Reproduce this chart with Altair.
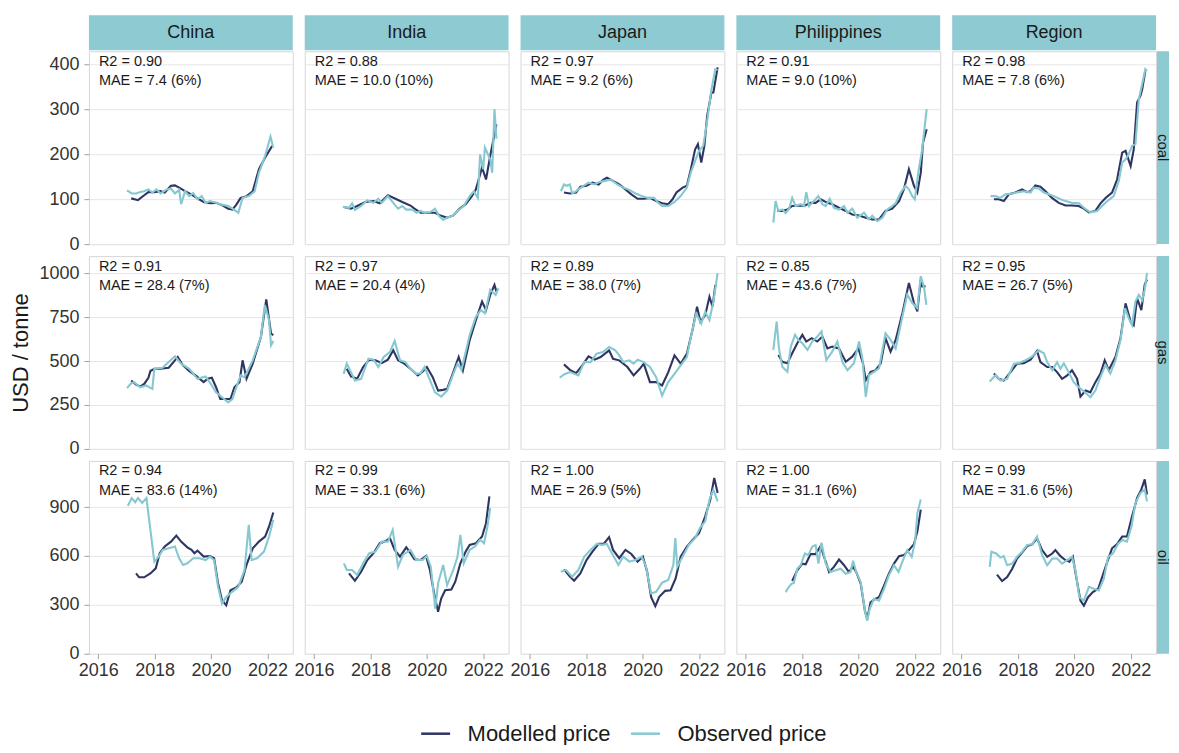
import altair as alt
import pandas as pd

countries = ["China", "India", "Japan", "Philippines", "Region"]
fuels = ["coal", "gas", "oil"]
series_names = ["Modelled price", "Observed price"]

r2_coal = [0.90, 0.88, 0.97, 0.91, 0.98]
r2_gas = [0.91, 0.97, 0.89, 0.85, 0.95]
r2_oil = [0.94, 0.99, 1.00, 1.00, 0.99]
mae_coal = [7.4, 10.0, 9.2, 9.0, 7.8]
mae_gas = [28.4, 20.4, 38.0, 43.6, 26.7]
mae_oil = [83.6, 33.1, 26.9, 31.1, 31.6]
pct_coal = [6, 10, 6, 10, 6]
pct_gas = [7, 4, 7, 7, 5]
pct_oil = [14, 6, 5, 6, 5]

x_ticks = [2016, 2018, 2020, 2022]
y_ticks_coal = [0, 100, 200, 300, 400]
y_ticks_gas = [0, 250, 500, 750, 1000]
y_ticks_oil = [0, 300, 600, 900]

# ---- coal ----
coal_china_mod = [(2017.17,102),(2017.41,98),(2017.63,109),(2017.78,116),(2017.99,116),(2018.21,118),(2018.36,115),(2018.58,130),(2018.72,131),(2018.87,126),(2019.08,118),(2019.30,111),(2019.52,102),(2019.74,94),(2019.96,91),(2020.18,92),(2020.39,87),(2020.61,79),(2020.76,77),(2020.90,88),(2021.05,103),(2021.26,107),(2021.48,118),(2021.70,167),(2021.92,193),(2022.17,219)]
coal_china_obs = [(2017.02,120),(2017.19,113),(2017.34,113),(2017.49,116),(2017.63,118),(2017.78,122),(2017.92,115),(2018.07,122),(2018.21,113),(2018.43,122),(2018.58,124),(2018.72,113),(2018.87,121),(2018.94,89),(2019.08,118),(2019.23,107),(2019.37,114),(2019.52,100),(2019.67,107),(2019.81,92),(2019.96,96),(2020.18,92),(2020.39,88),(2020.61,85),(2020.76,79),(2020.97,70),(2021.12,103),(2021.34,107),(2021.55,118),(2021.70,159),(2021.92,197),(2022.11,240),(2022.21,215)]
coal_india_mod = [(2017.06,83),(2017.31,79),(2017.53,85),(2017.82,94),(2018.11,96),(2018.33,91),(2018.62,109),(2018.83,103),(2019.13,94),(2019.42,86),(2019.56,79),(2019.78,70),(2020.00,70),(2020.29,70),(2020.51,63),(2020.72,59),(2020.94,64),(2021.16,79),(2021.38,89),(2021.60,107),(2021.74,122),(2021.96,171),(2022.10,144),(2022.25,197),(2022.47,267)]
coal_india_obs = [(2017.02,83),(2017.24,81),(2017.35,91),(2017.45,76),(2017.67,85),(2017.89,98),(2018.11,92),(2018.28,101),(2018.40,92),(2018.62,107),(2018.76,96),(2018.98,79),(2019.13,85),(2019.27,77),(2019.49,77),(2019.63,70),(2019.78,74),(2019.92,70),(2020.11,71),(2020.29,79),(2020.43,63),(2020.58,54),(2020.72,59),(2020.94,64),(2021.09,74),(2021.31,85),(2021.52,107),(2021.67,118),(2021.81,103),(2021.89,200),(2022.00,167),(2022.06,215),(2022.25,189),(2022.32,159),(2022.40,301),(2022.47,235)]
coal_japan_mod = [(2017.21,115),(2017.42,113),(2017.64,115),(2017.79,128),(2018.01,130),(2018.22,137),(2018.44,133),(2018.59,143),(2018.73,148),(2018.95,141),(2019.17,133),(2019.39,122),(2019.60,111),(2019.82,101),(2020.04,101),(2020.26,103),(2020.48,96),(2020.69,91),(2020.91,89),(2021.06,100),(2021.20,115),(2021.42,126),(2021.57,130),(2021.71,167),(2021.86,211),(2021.96,223),(2022.08,182),(2022.19,219),(2022.29,286),(2022.44,338),(2022.51,338),(2022.66,394)]
coal_japan_obs = [(2017.10,118),(2017.21,133),(2017.31,130),(2017.42,133),(2017.50,113),(2017.64,118),(2017.86,128),(2018.08,137),(2018.30,133),(2018.44,138),(2018.66,141),(2018.88,144),(2019.10,133),(2019.31,126),(2019.53,121),(2019.75,113),(2019.97,107),(2020.19,103),(2020.41,103),(2020.55,92),(2020.69,85),(2020.91,85),(2021.13,94),(2021.35,107),(2021.57,126),(2021.71,160),(2021.86,185),(2022.00,208),(2022.15,219),(2022.29,275),(2022.44,345),(2022.58,390),(2022.66,388)]
coal_phil_mod = [(2017.12,74),(2017.30,74),(2017.48,77),(2017.65,85),(2017.89,86),(2018.07,85),(2018.30,92),(2018.48,92),(2018.66,100),(2018.90,92),(2019.07,89),(2019.31,81),(2019.55,74),(2019.78,66),(2020.02,64),(2020.26,59),(2020.49,55),(2020.73,55),(2020.96,74),(2021.20,79),(2021.44,96),(2021.61,122),(2021.79,167),(2021.97,130),(2022.09,115),(2022.21,159),(2022.29,226),(2022.42,256)]
coal_phil_obs = [(2016.98,48),(2017.06,96),(2017.16,74),(2017.30,77),(2017.42,69),(2017.54,79),(2017.65,103),(2017.77,85),(2017.95,89),(2018.07,85),(2018.15,116),(2018.25,85),(2018.42,96),(2018.58,107),(2018.72,89),(2018.84,85),(2018.98,101),(2019.13,81),(2019.31,77),(2019.49,85),(2019.61,70),(2019.78,79),(2019.96,59),(2020.20,70),(2020.37,55),(2020.49,63),(2020.67,51),(2020.85,59),(2021.02,77),(2021.20,85),(2021.32,91),(2021.50,115),(2021.67,130),(2021.79,122),(2021.91,107),(2022.00,100),(2022.12,159),(2022.26,211),(2022.42,301)]
coal_region_mod = [(2017.15,100),(2017.32,100),(2017.50,96),(2017.68,111),(2017.91,115),(2018.15,122),(2018.33,116),(2018.45,118),(2018.62,131),(2018.80,128),(2018.98,118),(2019.21,103),(2019.45,92),(2019.69,86),(2019.92,86),(2020.16,85),(2020.34,79),(2020.52,71),(2020.75,74),(2020.93,91),(2021.11,103),(2021.34,115),(2021.52,144),(2021.70,204),(2021.82,208),(2022.00,174),(2022.11,211),(2022.23,316),(2022.35,331),(2022.41,345),(2022.52,386)]
coal_region_obs = [(2017.03,107),(2017.21,107),(2017.38,103),(2017.56,111),(2017.80,113),(2018.03,116),(2018.21,118),(2018.45,115),(2018.56,126),(2018.74,124),(2018.92,115),(2019.10,111),(2019.28,107),(2019.51,100),(2019.69,96),(2019.92,92),(2020.16,91),(2020.34,81),(2020.57,71),(2020.81,74),(2020.99,85),(2021.17,96),(2021.40,107),(2021.58,141),(2021.70,182),(2021.82,189),(2021.93,200),(2022.05,219),(2022.17,223),(2022.29,323),(2022.41,357),(2022.52,390),(2022.58,386)]

# ---- gas ----
gas_china_mod = [(2017.17,389),(2017.34,366),(2017.49,355),(2017.63,370),(2017.78,405),(2017.85,443),(2017.99,456),(2018.21,456),(2018.50,462),(2018.72,504),(2018.82,523),(2019.01,475),(2019.23,443),(2019.45,418),(2019.74,380),(2019.88,399),(2020.03,405),(2020.18,351),(2020.33,284),(2020.55,284),(2020.69,284),(2020.83,351),(2021.01,380),(2021.12,504),(2021.26,399),(2021.48,485),(2021.77,637),(2021.96,851),(2022.13,656),(2022.21,647)]
gas_china_obs = [(2017.02,347),(2017.17,374),(2017.27,380),(2017.49,351),(2017.70,361),(2017.92,342),(2017.99,456),(2018.28,462),(2018.72,527),(2018.94,485),(2019.23,456),(2019.52,399),(2019.81,412),(2020.03,361),(2020.18,322),(2020.39,294),(2020.61,265),(2020.76,284),(2020.90,351),(2021.05,418),(2021.19,408),(2021.48,504),(2021.77,637),(2021.91,819),(2022.06,733),(2022.13,590),(2022.21,614)]
gas_india_mod = [(2017.16,456),(2017.31,412),(2017.53,399),(2017.74,466),(2017.96,508),(2018.18,504),(2018.40,488),(2018.62,508),(2018.81,561),(2018.98,504),(2019.20,485),(2019.42,456),(2019.68,418),(2019.83,437),(2020.00,466),(2020.21,408),(2020.40,332),(2020.58,336),(2020.72,342),(2020.94,437),(2021.13,523),(2021.28,447),(2021.52,618),(2021.74,733),(2021.96,838),(2022.10,790),(2022.25,876),(2022.40,933),(2022.47,895)]
gas_india_obs = [(2017.05,427),(2017.16,485),(2017.31,437),(2017.45,389),(2017.67,399),(2017.93,513),(2018.11,508),(2018.28,466),(2018.47,523),(2018.69,551),(2018.86,614),(2019.05,504),(2019.24,494),(2019.42,456),(2019.63,427),(2019.78,431),(2019.92,466),(2020.14,380),(2020.29,322),(2020.51,298),(2020.72,332),(2020.94,427),(2021.09,485),(2021.23,450),(2021.52,647),(2021.74,752),(2021.92,790),(2022.06,771),(2022.25,905),(2022.44,876),(2022.54,914)]
gas_japan_mod = [(2017.21,481),(2017.42,450),(2017.64,431),(2017.86,475),(2018.08,527),(2018.30,508),(2018.51,523),(2018.81,561),(2018.95,513),(2019.17,504),(2019.46,466),(2019.68,418),(2019.90,456),(2020.04,485),(2020.26,380),(2020.48,380),(2020.69,361),(2020.91,437),(2021.13,532),(2021.35,485),(2021.57,542),(2021.78,685),(2021.93,809),(2022.05,723),(2022.22,761),(2022.37,866),(2022.48,809),(2022.58,933)]
gas_japan_obs = [(2017.06,405),(2017.21,424),(2017.42,437),(2017.72,418),(2017.93,494),(2018.15,494),(2018.37,542),(2018.59,551),(2018.81,580),(2019.03,561),(2019.17,532),(2019.31,494),(2019.53,504),(2019.68,485),(2019.82,508),(2020.04,494),(2020.26,466),(2020.48,408),(2020.69,303),(2020.91,380),(2021.13,427),(2021.35,475),(2021.57,523),(2021.71,637),(2021.90,771),(2022.08,714),(2022.22,780),(2022.37,733),(2022.51,838),(2022.66,1000)]
gas_phil_mod = [(2017.16,534),(2017.30,496),(2017.48,487),(2017.65,544),(2017.83,601),(2018.01,649),(2018.15,611),(2018.34,630),(2018.54,611),(2018.72,639),(2018.90,572),(2019.07,582),(2019.31,572),(2019.55,496),(2019.78,525),(2020.00,572),(2020.16,487),(2020.26,391),(2020.43,439),(2020.61,448),(2020.79,487),(2020.96,630),(2021.14,553),(2021.32,620),(2021.56,773),(2021.79,944),(2021.97,830),(2022.09,782),(2022.21,963),(2022.26,925),(2022.38,925)]
gas_phil_obs = [(2016.98,563),(2017.10,725),(2017.18,572),(2017.30,467),(2017.48,439),(2017.60,582),(2017.75,649),(2017.87,620),(2018.01,601),(2018.19,563),(2018.36,611),(2018.54,639),(2018.69,668),(2018.86,506),(2019.07,553),(2019.25,611),(2019.43,496),(2019.61,448),(2019.84,487),(2020.02,611),(2020.14,515),(2020.26,296),(2020.37,420),(2020.55,439),(2020.73,458),(2020.96,658),(2021.14,620),(2021.32,572),(2021.56,754),(2021.73,878),(2021.91,830),(2022.09,801),(2022.21,983),(2022.33,916),(2022.41,820)]
gas_region_mod = [(2017.15,429),(2017.32,399),(2017.50,389),(2017.74,437),(2017.97,485),(2018.21,488),(2018.45,508),(2018.68,557),(2018.80,494),(2019.04,466),(2019.22,466),(2019.39,437),(2019.57,399),(2019.75,418),(2019.92,448),(2020.10,399),(2020.22,298),(2020.40,332),(2020.57,322),(2020.75,380),(2020.93,429),(2021.08,504),(2021.22,448),(2021.46,523),(2021.64,630),(2021.82,828),(2022.00,723),(2022.11,704),(2022.23,857),(2022.38,790),(2022.50,935),(2022.58,964)]
gas_region_obs = [(2017.00,384),(2017.21,420),(2017.38,389),(2017.62,399),(2017.86,485),(2018.03,488),(2018.27,504),(2018.51,527),(2018.74,561),(2018.92,544),(2019.04,494),(2019.22,448),(2019.39,494),(2019.51,456),(2019.63,487),(2019.80,437),(2019.98,380),(2020.16,351),(2020.34,328),(2020.57,294),(2020.75,332),(2020.93,410),(2021.11,477),(2021.28,429),(2021.46,504),(2021.64,620),(2021.80,801),(2021.93,744),(2022.05,704),(2022.17,838),(2022.29,876),(2022.41,847),(2022.50,906),(2022.58,1002)]

# ---- oil ----
oil_china_mod = [(2017.34,493),(2017.45,469),(2017.63,469),(2017.85,493),(2018.04,524),(2018.18,617),(2018.36,658),(2018.58,688),(2018.77,725),(2018.94,688),(2019.16,653),(2019.31,637),(2019.41,617),(2019.52,633),(2019.74,596),(2019.96,600),(2020.11,586),(2020.25,432),(2020.39,329),(2020.54,298),(2020.69,390),(2020.90,407),(2021.09,442),(2021.26,545),(2021.48,647),(2021.70,688),(2021.92,719),(2022.06,781),(2022.21,867)]
oil_china_obs = [(2017.05,908),(2017.19,955),(2017.31,929),(2017.41,955),(2017.56,925),(2017.71,955),(2017.99,565),(2018.14,596),(2018.29,637),(2018.50,647),(2018.72,658),(2018.87,586),(2019.01,545),(2019.16,555),(2019.37,586),(2019.59,586),(2019.81,575),(2019.96,596),(2020.11,575),(2020.25,411),(2020.39,308),(2020.54,349),(2020.75,380),(2020.97,411),(2021.19,514),(2021.34,791),(2021.44,575),(2021.63,586),(2021.88,627),(2022.06,719),(2022.21,822)]
oil_india_mod = [(2017.24,493),(2017.45,448),(2017.67,503),(2017.89,575),(2018.11,617),(2018.33,678),(2018.51,688),(2018.69,709),(2018.86,637),(2019.05,596),(2019.27,653),(2019.42,617),(2019.56,579),(2019.78,575),(2019.97,600),(2020.11,514),(2020.26,370),(2020.40,257),(2020.51,339),(2020.65,390),(2020.87,394),(2021.01,442),(2021.19,555),(2021.38,627),(2021.52,668),(2021.74,678),(2021.96,719),(2022.10,801),(2022.22,966)]
oil_india_obs = [(2017.06,555),(2017.16,514),(2017.35,514),(2017.53,483),(2017.74,555),(2017.96,617),(2018.18,627),(2018.40,688),(2018.62,688),(2018.79,760),(2018.98,534),(2019.15,606),(2019.42,637),(2019.63,575),(2019.85,575),(2020.00,600),(2020.14,534),(2020.30,277),(2020.40,432),(2020.58,545),(2020.72,421),(2020.94,514),(2021.09,596),(2021.19,729),(2021.31,555),(2021.52,637),(2021.71,658),(2021.89,699),(2022.03,678),(2022.15,781),(2022.25,894)]
oil_japan_mod = [(2017.21,518),(2017.42,473),(2017.57,448),(2017.79,493),(2018.01,575),(2018.22,627),(2018.44,674),(2018.62,674),(2018.81,715),(2018.95,637),(2019.17,586),(2019.39,637),(2019.60,612),(2019.82,565),(2020.01,596),(2020.16,503),(2020.30,349),(2020.45,292),(2020.59,349),(2020.80,386),(2020.99,390),(2021.17,462),(2021.35,596),(2021.57,658),(2021.78,699),(2022.00,740),(2022.22,843),(2022.40,945),(2022.54,1079),(2022.66,986)]
oil_japan_obs = [(2017.10,503),(2017.28,514),(2017.50,473),(2017.72,514),(2017.93,596),(2018.15,637),(2018.37,674),(2018.56,668),(2018.73,674),(2018.91,617),(2019.14,545),(2019.31,596),(2019.53,565),(2019.75,575),(2019.97,596),(2020.12,534),(2020.30,370),(2020.48,380),(2020.69,436),(2020.91,452),(2021.09,545),(2021.16,709),(2021.23,534),(2021.42,596),(2021.64,668),(2021.86,709),(2022.03,771),(2022.22,812),(2022.37,945),(2022.51,1007),(2022.66,935)]
oil_phil_mod = [(2017.65,446),(2017.83,512),(2018.01,553),(2018.13,549),(2018.30,611),(2018.48,611),(2018.66,661),(2018.78,595),(2018.96,502),(2019.13,533),(2019.31,578),(2019.49,543),(2019.66,502),(2019.81,533),(2019.92,502),(2020.08,430),(2020.23,264),(2020.31,213),(2020.43,316),(2020.59,337),(2020.73,347),(2020.91,419),(2021.08,491),(2021.26,553),(2021.44,599),(2021.61,605),(2021.79,636),(2021.97,673),(2022.09,750),(2022.21,884)]
oil_phil_obs = [(2017.42,378),(2017.51,405),(2017.63,430),(2017.71,434),(2017.83,522),(2017.95,543),(2018.10,615),(2018.22,605),(2018.36,657),(2018.48,667),(2018.58,553),(2018.69,682),(2018.84,553),(2019.01,502),(2019.19,512),(2019.37,522),(2019.55,491),(2019.72,502),(2019.81,570),(2019.92,502),(2020.08,440),(2020.23,264),(2020.31,202),(2020.40,275),(2020.55,337),(2020.73,326),(2020.91,399),(2021.08,481),(2021.26,543),(2021.42,502),(2021.58,574),(2021.73,636),(2021.89,595),(2022.01,688),(2022.09,863),(2022.21,946)]
oil_region_mod = [(2017.26,485),(2017.44,446),(2017.62,471),(2017.80,522),(2017.97,584),(2018.15,620),(2018.33,661),(2018.51,671),(2018.68,708),(2018.86,636),(2019.04,595),(2019.22,615),(2019.33,636),(2019.51,599),(2019.69,574),(2019.83,564),(2019.95,595),(2020.07,471),(2020.22,326),(2020.34,295),(2020.49,347),(2020.66,378),(2020.85,399),(2021.01,481),(2021.17,564),(2021.34,647),(2021.52,673),(2021.70,719),(2021.87,719),(2022.05,843),(2022.23,956),(2022.38,1008),(2022.50,1070),(2022.58,977)]
oil_region_obs = [(2017.00,533),(2017.06,626),(2017.23,615),(2017.38,590),(2017.50,599),(2017.62,543),(2017.80,553),(2017.97,595),(2018.15,626),(2018.33,667),(2018.51,671),(2018.68,719),(2018.86,605),(2019.04,543),(2019.22,584),(2019.39,584),(2019.57,553),(2019.75,574),(2019.92,595),(2020.04,512),(2020.18,347),(2020.34,326),(2020.52,411),(2020.69,399),(2020.87,388),(2021.05,460),(2021.20,595),(2021.37,615),(2021.56,677),(2021.72,698),(2021.87,688),(2022.03,781),(2022.17,925),(2022.35,987),(2022.50,1008),(2022.58,935)]

SERIES = {
    ("coal", "China"): (coal_china_mod, coal_china_obs),
    ("coal", "India"): (coal_india_mod, coal_india_obs),
    ("coal", "Japan"): (coal_japan_mod, coal_japan_obs),
    ("coal", "Philippines"): (coal_phil_mod, coal_phil_obs),
    ("coal", "Region"): (coal_region_mod, coal_region_obs),
    ("gas", "China"): (gas_china_mod, gas_china_obs),
    ("gas", "India"): (gas_india_mod, gas_india_obs),
    ("gas", "Japan"): (gas_japan_mod, gas_japan_obs),
    ("gas", "Philippines"): (gas_phil_mod, gas_phil_obs),
    ("gas", "Region"): (gas_region_mod, gas_region_obs),
    ("oil", "China"): (oil_china_mod, oil_china_obs),
    ("oil", "India"): (oil_india_mod, oil_india_obs),
    ("oil", "Japan"): (oil_japan_mod, oil_japan_obs),
    ("oil", "Philippines"): (oil_phil_mod, oil_phil_obs),
    ("oil", "Region"): (oil_region_mod, oil_region_obs),
}
STATS = {
    "coal": (r2_coal, mae_coal, pct_coal),
    "gas": (r2_gas, mae_gas, pct_gas),
    "oil": (r2_oil, mae_oil, pct_oil),
}
Y_TICKS = {"coal": y_ticks_coal, "gas": y_ticks_gas, "oil": y_ticks_oil}
Y_TOP = {"coal": 430, "gas": 1097, "oil": 1183}

NAVY = "#2f3563"
TEAL = "#86c8d0"
STRIP = "#8dcad2"
FONT = "Liberation Sans"
W, H = 204, 193


def cell(fi, ci):
    fuel, country = fuels[fi], countries[ci]
    mod, obs = SERIES[(fuel, country)]
    rows = [{"year": y, "value": v, "series": series_names[0]} for y, v in mod]
    rows += [{"year": y, "value": v, "series": series_names[1]} for y, v in obs]
    df = pd.DataFrame(rows)
    first_col, bottom = ci == 0, fi == 2

    if bottom:
        xaxis = alt.Axis(values=x_ticks, format="d", grid=False, title=None,
                         labelFontSize=18, labelPadding=3)
    else:
        xaxis = None
    yaxis = alt.Axis(values=Y_TICKS[fuel], format="d", grid=True, labels=first_col, ticks=first_col,
                     title="USD / tonne" if (first_col and fi == 1) else None)

    lines = alt.Chart(df).mark_line(strokeWidth=2.1).encode(
        x=alt.X("year:Q", scale=alt.Scale(domain=[2015.67, 2022.9], nice=False, zero=False), axis=xaxis),
        y=alt.Y("value:Q", scale=alt.Scale(domain=[0, Y_TOP[fuel]], nice=False), axis=yaxis),
        color=alt.Color("series:N", scale=alt.Scale(domain=series_names, range=[NAVY, TEAL]),
                        legend=alt.Legend(title=None, orient="none", direction="horizontal",
                                          legendX=331, legendY=667, padding=0,
                                          symbolType="stroke", symbolSize=841, symbolStrokeWidth=2.5,
                                          labelFontSize=22, labelFont=FONT, labelColor="#1a1a1a",
                                          labelOffset=16, columnPadding=14)),
    )

    r2s, maes, pcts = STATS[fuel]
    ann_df = pd.DataFrame([{"l1": f"R2 = {r2s[ci]:.2f}", "l2": f"MAE = {maes[ci]:.1f} ({pcts[ci]}%)"}])
    ann1 = alt.Chart(ann_df).mark_text(align="left", baseline="middle", fontSize=14.5, font=FONT,
                                       color="#1a1a1a").encode(x=alt.value(10), y=alt.value(10.5), text="l1:N")
    ann2 = alt.Chart(ann_df).mark_text(align="left", baseline="middle", fontSize=14.5, font=FONT,
                                       color="#1a1a1a").encode(x=alt.value(10), y=alt.value(30), text="l2:N")
    layers = [lines, ann1, ann2]

    if fi == 0:
        sdf = pd.DataFrame([{"label": country}])
        layers.append(alt.Chart(sdf).mark_rect(color=STRIP).encode(
            x=alt.value(0), x2=alt.value(W), y=alt.value(-36), y2=alt.value(-1)))
        layers.append(alt.Chart(sdf).mark_text(fontSize=18, font=FONT, color="#1a1a1a", baseline="middle").encode(
            x=alt.value(W / 2), y=alt.value(-18), text="label:N"))
    if ci == 4:
        rdf = pd.DataFrame([{"label": fuel}])
        layers.append(alt.Chart(rdf).mark_rect(color=STRIP).encode(
            x=alt.value(W + 1), x2=alt.value(W + 13), y=alt.value(0), y2=alt.value(H)))
        layers.append(alt.Chart(rdf).mark_text(fontSize=15, font=FONT, color="#1a1a1a", baseline="middle",
                                               angle=90).encode(
            x=alt.value(W + 7), y=alt.value(H / 2), text="label:N"))

    return alt.layer(*layers).properties(width=W, height=H)


cells = [cell(fi, ci) for fi in range(3) for ci in range(5)]

chart = alt.concat(*cells, columns=5, spacing=12, bounds="flush").resolve_scale(
    x="independent", y="independent", color="shared"
).resolve_axis(x="independent", y="independent").properties(
    padding={"left": 1, "top": 6, "right": 0, "bottom": 0}
).configure_view(
    stroke="#d6d6d6", strokeWidth=1
).configure_axis(
    domain=False, gridColor="#e6e6e6", gridWidth=1, tickColor="#a0a0a0", tickSize=5,
    labelFont=FONT, labelFontSize=18, labelColor="#333333", labelPadding=5,
    titleFont=FONT, titleFontSize=22, titleFontWeight="normal", titleColor="#1a1a1a", titlePadding=6,
)

chart.save("out.html", embed_options={"renderer": "svg", "actions": False})
